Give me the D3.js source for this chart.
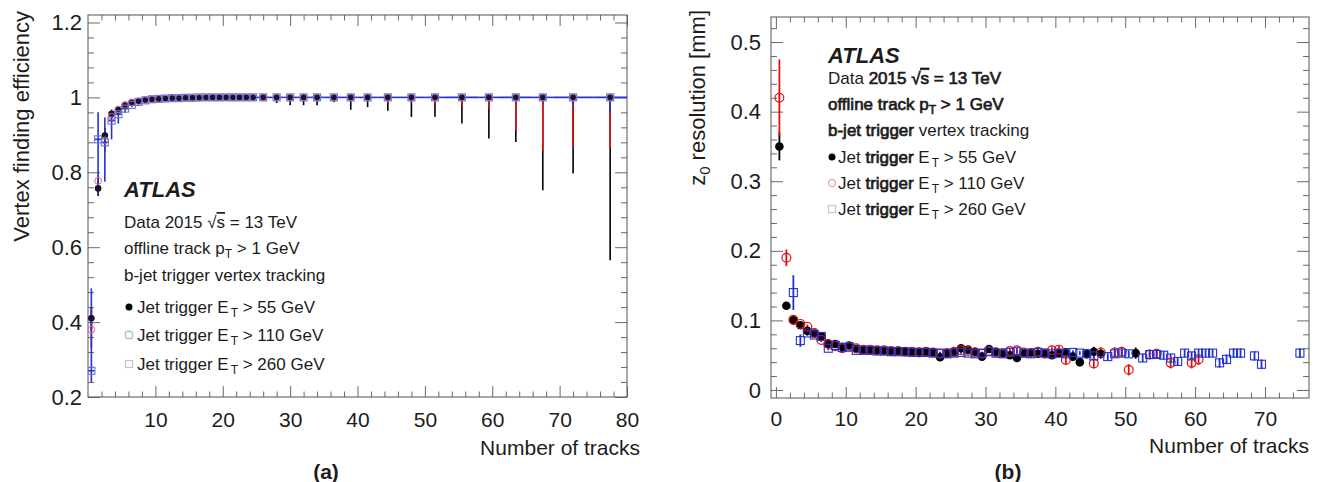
<!DOCTYPE html>
<html><head><meta charset="utf-8">
<script src="https://cdn.jsdelivr.net/npm/d3@7"></script>
<style>
body{margin:0;background:#fff}
svg{display:block}
text{font-family:"Liberation Sans",Arial,Helvetica,sans-serif;fill:#1c1c1c}
</style>
</head><body>
<svg id="c" width="1324" height="482"></svg>
<script>
// ================= Panel (a): vertex finding efficiency =================
const effX = [0.5,1.5,2.5,3.5,4.5,5.5,6.5,7.5,8.5,9.5,10.5,11.5,12.5,13.5,14.5,15.5,16.5,17.5,18.5,19.5,20.5,21.5,22.5,23.5,24.5,26,28,30,32,34,36.5,39,41.5,44.5,48,51.5,55.5,59.5,63.5,67.5,72,77.5];
const effXErr = [0.5,0.5,0.5,0.5,0.5,0.5,0.5,0.5,0.5,0.5,0.5,0.5,0.5,0.5,0.5,0.5,0.5,0.5,0.5,0.5,0.5,0.5,0.5,0.5,0.5,1,1,1,1,1,1.5,1,1.5,1.5,2,1.5,2.5,1.5,2.5,1.5,3,2.5];

const eff55 = [0.410,0.757,0.898,0.956,0.966,0.978,0.986,0.990,0.993,0.995,0.996,0.997,0.998,0.998,0.999,0.999,0.999,0.999,1,1,1,1,1,1,1,1,1,1,1,1,1,1,1,1,1,1,1,1,1,1,1,1];
const eff55Lo = [0.03,0.02,0.03,0.012,0.008,0.005,0.004,0.003,0.003,0.002,0.002,0.002,0.001,0.001,0.001,0.001,0.001,0.001,0.001,0.001,0.001,0.002,0.002,0.002,0.002,0.004,0.015,0.021,0.021,0.021,0.013,0.033,0.026,0.036,0.052,0.052,0.070,0.110,0.119,0.248,0.203,0.435];
const eff55Hi = [0.03,0.02,0.02,0.008,0.006,0.004,0.003,0.002,0.002,0.002,0.002,0.001,0.001,0.001,0.001,0.001,0.001,0.001,0,0,0,0,0,0,0,0,0,0,0,0,0,0,0,0,0,0,0,0,0,0,0,0];

const eff110 = [0.380,0.777,0.885,0.948,0.968,0.980,0.987,0.990,0.993,0.995,0.996,0.997,0.998,0.998,0.999,0.999,0.999,1,1,1,1,1,1,1,1,1,1,1,1,1,1,1,1,1,1,1,1,1,1,1,1,1];
const eff110Lo = [0.05,0.015,0.03,0.012,0.008,0.005,0.004,0.003,0.003,0.002,0.002,0.002,0.001,0.001,0.001,0.001,0.001,0.001,0.001,0.001,0.001,0.001,0.001,0.001,0.001,0.002,0.006,0.006,0.008,0.008,0.005,0.010,0.010,0.015,0.015,0.020,0.022,0.030,0.088,0.142,0.134,0.137];
const eff110Hi = [0.05,0.015,0.02,0.008,0.006,0.004,0.003,0.002,0.002,0.002,0.002,0.001,0.001,0.001,0.001,0.001,0.001,0,0,0,0,0,0,0,0,0,0,0,0,0,0,0,0,0,0,0,0,0,0,0,0,0];

const eff260 = [0.270,0.888,0.880,0.938,0.955,0.970,0.980,0.988,0.992,0.995,0.996,0.997,0.998,0.998,0.999,0.999,1,1,1,1,1,1,1,1,1,1,1,1,1,1,1,1,1,1,1,1,1,1,1,1,1,1];
const eff260Lo = [0.03,0.145,0.105,0.05,0.025,0.012,0.006,0.004,0.003,0.002,0.002,0.002,0.001,0.001,0.001,0.001,0.001,0.001,0.001,0.001,0.001,0.001,0.001,0.001,0.001,0.001,0.003,0.003,0.004,0.004,0.003,0.005,0.005,0.006,0.007,0.007,0.008,0.010,0.012,0.015,0.020,0.040];
const eff260Hi = [0.22,0.072,0.066,0.03,0.018,0.01,0.006,0.003,0.002,0.002,0.002,0.001,0.001,0.001,0.001,0.001,0,0,0,0,0,0,0,0,0,0,0,0,0,0,0,0,0,0,0,0,0,0,0,0,0,0];

const effXTicks = [10,20,30,40,50,60,70,80];
const effXLabels = ["10","20","30","40","50","60","70","80"];
const effYTicks = [0.2,0.4,0.6,0.8,1,1.2];
const effYLabels = ["0.2","0.4","0.6","0.8","1","1.2"];

// ================= Panel (b): z0 resolution =================
const resX55 = [0.5,1.5,2.5,3.5,4.5,5.5,6.5,7.5,8.5,9.5,10.5,11.5,12.5,13.5,14.5,15.5,16.5,17.5,18.5,19.5,20.5,21.5,22.5,23.5,24.5,25.5,26.5,27.5,28.5,29.5,30.5,31.5,32.5,33.5,34.5,35.5,36.5,37.5,38.5,39.5,40.5,41.5,42.5,43.5,44.5,45.5,46.5,51.5];
const res55 = [0.350,0.121,0.100,0.093,0.085,0.081,0.077,0.066,0.066,0.062,0.064,0.059,0.058,0.057,0.057,0.056,0.056,0.056,0.055,0.055,0.055,0.054,0.054,0.047,0.053,0.054,0.060,0.058,0.055,0.048,0.059,0.055,0.052,0.050,0.046,0.053,0.054,0.052,0.053,0.050,0.053,0.054,0.048,0.040,0.052,0.055,0.052,0.053];
const res55Err = [0.02,0.004,0.003,0.003,0.003,0.003,0.003,0.003,0.002,0.002,0.002,0.002,0.002,0.002,0.002,0.002,0.002,0.002,0.002,0.002,0.002,0.002,0.002,0.002,0.003,0.003,0.003,0.003,0.003,0.003,0.003,0.004,0.004,0.004,0.004,0.004,0.005,0.005,0.005,0.005,0.006,0.006,0.006,0.006,0.007,0.007,0.007,0.008];

const resX110 = [0.5,1.5,2.5,3.5,4.5,5.5,6.5,7.5,8.5,9.5,10.5,11.5,12.5,13.5,14.5,15.5,16.5,17.5,18.5,19.5,20.5,21.5,22.5,23.5,24.5,25.5,26.5,27.5,28.5,29.5,30.5,31.5,32.5,33.5,34.5,35.5,36.5,37.5,38.5,39.5,40.5,41.5,45.5,46.5,48.5,49.5,50.5,53.5,54.5,56.5,59.5,60.5];
const res110 = [0.420,0.190,0.101,0.095,0.091,0.082,0.072,0.066,0.063,0.060,0.062,0.060,0.058,0.058,0.057,0.057,0.056,0.056,0.055,0.055,0.054,0.055,0.054,0.052,0.053,0.055,0.057,0.056,0.054,0.052,0.056,0.054,0.053,0.056,0.057,0.054,0.053,0.055,0.052,0.057,0.058,0.043,0.038,0.054,0.054,0.055,0.029,0.051,0.052,0.039,0.039,0.044];
const res110Err = [0.055,0.012,0.004,0.003,0.003,0.003,0.003,0.003,0.002,0.002,0.002,0.002,0.002,0.002,0.002,0.002,0.002,0.002,0.002,0.002,0.003,0.003,0.003,0.003,0.003,0.003,0.003,0.003,0.003,0.003,0.003,0.004,0.004,0.004,0.004,0.004,0.005,0.005,0.005,0.005,0.006,0.006,0.007,0.007,0.007,0.007,0.008,0.007,0.007,0.008,0.008,0.008];

const resX260 = [2.5,3.5,4.5,5.5,6.5,7.5,8.5,9.5,10.5,11.5,12.5,13.5,14.5,15.5,16.5,17.5,18.5,19.5,20.5,21.5,22.5,23.5,24.5,25.5,26.5,27.5,28.5,29.5,30.5,31.5,32.5,33.5,34.5,35.5,36.5,37.5,38.5,39.5,40.5,41.5,42.5,43.5,44.5,45.5,47.5,48.5,49.5,50.5,52.5,53.5,54.5,55.5,56.5,57.5,58.5,59.5,60.5,61.5,62.5,63.5,64.5,65.5,66.5,68.5,69.5,75];
const res260 = [0.140,0.071,0.082,0.079,0.077,0.060,0.064,0.061,0.062,0.057,0.057,0.057,0.056,0.056,0.055,0.055,0.055,0.054,0.054,0.054,0.053,0.053,0.052,0.053,0.054,0.053,0.052,0.053,0.055,0.053,0.052,0.054,0.055,0.053,0.052,0.054,0.053,0.052,0.053,0.052,0.054,0.053,0.052,0.049,0.048,0.052,0.053,0.052,0.046,0.051,0.051,0.050,0.046,0.041,0.053,0.049,0.053,0.053,0.053,0.039,0.044,0.053,0.053,0.049,0.037,0.053];
const res260Err = [0.025,0.009,0.004,0.003,0.003,0.003,0.003,0.003,0.003,0.002,0.002,0.002,0.002,0.002,0.002,0.002,0.002,0.002,0.002,0.002,0.002,0.002,0.002,0.002,0.002,0.002,0.002,0.002,0.002,0.002,0.003,0.003,0.003,0.003,0.003,0.003,0.003,0.003,0.003,0.003,0.003,0.003,0.004,0.005,0.005,0.005,0.005,0.005,0.006,0.006,0.006,0.006,0.006,0.006,0.006,0.006,0.006,0.006,0.006,0.007,0.007,0.007,0.007,0.007,0.007,0.007];

const resXTicks = [0,10,20,30,40,50,60,70];
const resXLabels = ["0","10","20","30","40","50","60","70"];
const resYTicks = [0,0.1,0.2,0.3,0.4,0.5];
const resYLabels = ["0","0.1","0.2","0.3","0.4","0.5"];

// ================= drawing =================
const svg = d3.select("#c");
const C_BLACK = "#000000", C_RED = "#e01010", C_BLUE = "#2233d0";
const FONT = '"Liberation Sans",Arial,Helvetica,sans-serif';

function styleAxis(sel, fs){
  sel.attr("font-size", fs).attr("font-family", FONT);
  sel.select(".domain").remove();
  sel.selectAll(".tick line").attr("stroke", "#6a6a6a").attr("stroke-width", 1);
  sel.selectAll(".tick text").attr("fill", "#1c1c1c");
}

function frameAxes(cfg){
  const {x, y, xT, xL, yT, yL, xMinor, yMinor, xPad, yPad, xMaj, yMaj} = cfg;
  const [X0, X1] = x.range(), [Y0, Y1] = y.range();
  const g = svg.append("g");
  const fmt = (ticks, labels) => (d) => labels[ticks.indexOf(d)];
  g.append("g").attr("transform", `translate(0,${Y0})`)
    .call(d3.axisBottom(x).tickValues(xMinor).tickSize(-xMaj/2).tickFormat("")).call(styleAxis, 21);
  g.append("g").attr("transform", `translate(0,${Y1})`)
    .call(d3.axisTop(x).tickValues(xMinor).tickSize(-xMaj/2).tickFormat("")).call(styleAxis, 21);
  g.append("g").attr("transform", `translate(${X0},0)`)
    .call(d3.axisLeft(y).tickValues(yMinor).tickSize(-yMaj/2).tickFormat("")).call(styleAxis, 22);
  g.append("g").attr("transform", `translate(${X1},0)`)
    .call(d3.axisRight(y).tickValues(yMinor).tickSize(-yMaj/2).tickFormat("")).call(styleAxis, 22);
  g.append("g").attr("transform", `translate(0,${Y0})`)
    .call(d3.axisBottom(x).tickValues(xT).tickSize(-xMaj).tickPadding(xPad).tickFormat(fmt(xT, xL))).call(styleAxis, 21);
  g.append("g").attr("transform", `translate(0,${Y1})`)
    .call(d3.axisTop(x).tickValues(xT).tickSize(-xMaj).tickFormat("")).call(styleAxis, 21);
  g.append("g").attr("transform", `translate(${X0},0)`)
    .call(d3.axisLeft(y).tickValues(yT).tickSize(-yMaj).tickPadding(yPad).tickFormat(fmt(yT, yL))).call(styleAxis, 22);
  g.append("g").attr("transform", `translate(${X1},0)`)
    .call(d3.axisRight(y).tickValues(yT).tickSize(-yMaj).tickFormat("")).call(styleAxis, 22);
  g.append("rect").attr("x", X0).attr("y", Y1).attr("width", X1 - X0).attr("height", Y0 - Y1)
    .attr("fill", "none").attr("stroke", "#555").attr("stroke-width", 1);
}

function clipFor(id, x, y){
  const [X0, X1] = x.range(), [Y0, Y1] = y.range();
  svg.append("clipPath").attr("id", id).append("rect")
    .attr("x", X0).attr("y", Y1).attr("width", X1 - X0).attr("height", Y0 - Y1);
  return svg.append("g").attr("clip-path", `url(#${id})`);
}

function vErr(g, xs, ys, lo, hi, x, y, color, w){
  g.append("g").selectAll("line").data(xs).join("line")
    .attr("x1", d => x(d)).attr("x2", d => x(d))
    .attr("y1", (d, i) => y(ys[i] - lo[i])).attr("y2", (d, i) => y(ys[i] + hi[i]))
    .attr("stroke", color).attr("stroke-width", w);
}
function hErr(g, xs, ys, xe, x, y, color, w){
  g.append("g").selectAll("line").data(xs).join("line")
    .attr("x1", (d, i) => x(d - xe[i])).attr("x2", (d, i) => x(d + xe[i]))
    .attr("y1", (d, i) => y(ys[i])).attr("y2", (d, i) => y(ys[i]))
    .attr("stroke", color).attr("stroke-width", w);
}
function circles(g, xs, ys, x, y, r, fill, stroke, sw){
  g.append("g").selectAll("circle").data(xs).join("circle")
    .attr("cx", d => x(d)).attr("cy", (d, i) => y(ys[i])).attr("r", r)
    .attr("fill", fill).attr("stroke", stroke).attr("stroke-width", sw);
}
function squares(g, xs, ys, x, y, s, stroke, sw){
  g.append("g").selectAll("rect").data(xs).join("rect")
    .attr("x", d => x(d) - s/2).attr("y", (d, i) => y(ys[i]) - s/2)
    .attr("width", s).attr("height", s)
    .attr("fill", "none").attr("stroke", stroke).attr("stroke-width", sw);
}

// ---------- Panel (a) ----------
const xA = d3.scaleLinear().domain([0, 80]).range([88, 627]);
const yA = d3.scaleLinear().domain([0.2, 1.22]).range([397, 15]);
frameAxes({x: xA, y: yA, xT: effXTicks, xL: effXLabels, yT: effYTicks, yL: effYLabels,
  xMinor: d3.range(2, 80, 2).filter(v => v % 10), yMinor: d3.range(0.24, 1.22, 0.04).filter(v => Math.abs(v*5 - Math.round(v*5)) > 1e-6),
  xPad: 15, yPad: 6, xMaj: 11, yMaj: 12});
const gA = clipFor("clipA", xA, yA);
vErr(gA, effX, eff55, eff55Lo, eff55Hi, xA, yA, C_BLACK, 1.6);
vErr(gA, effX, eff110, eff110Lo, eff110Hi, xA, yA, C_RED, 1.6);
vErr(gA, effX, eff260, eff260Lo, eff260Hi, xA, yA, C_BLUE, 1.6);
hErr(gA, effX, eff260, effXErr, xA, yA, C_BLUE, 1.6);
circles(gA, effX, eff55, xA, yA, 3.3, "#1a1030", "none", 0);
circles(gA, effX, eff110, xA, yA, 3.4, "none", "#d86a88", 1);
squares(gA, effX, eff260, xA, yA, 7, "#6a74d8", 1.1);

// legend (a)
const tA = svg.append("g");
tA.append("text").attr("x", 124).attr("y", 197).attr("font-size", 22)
  .attr("font-weight", "bold").attr("font-style", "italic").text("ATLAS");
const la1 = tA.append("text").attr("x", 124).attr("y", 228).attr("font-size", 17);
la1.append("tspan").text("Data 2015  √");
la1.append("tspan").attr("text-decoration", "overline").text("s");
la1.append("tspan").text(" = 13 TeV");
const la2 = tA.append("text").attr("x", 124).attr("y", 254).attr("font-size", 17);
la2.append("tspan").text("offline track p");
la2.append("tspan").attr("font-size", 12).attr("dy", 4).text("T");
la2.append("tspan").attr("dy", -4).text(" > 1 GeV");
tA.append("text").attr("x", 124).attr("y", 281).attr("font-size", 17).text("b-jet trigger vertex tracking");
const legA = [["55", 313], ["110", 341], ["260", 370]];
legA.forEach(([e, yy]) => {
  const t = tA.append("text").attr("x", 137).attr("y", yy).attr("font-size", 17);
  t.append("tspan").text("Jet trigger E");
  t.append("tspan").attr("font-size", 12).attr("dx", 2).attr("dy", 4).text("T");
  t.append("tspan").attr("dy", -4).text(" > " + e + " GeV");
});
tA.append("circle").attr("cx", 129).attr("cy", 307).attr("r", 3.5).attr("fill", "#000");
tA.append("rect").attr("x", 125.5).attr("y", 331.5).attr("width", 7).attr("height", 7).attr("rx", 1.5)
  .attr("fill", "none").attr("stroke", "#bbb").attr("stroke-width", 1.3);
tA.append("rect").attr("x", 125.5).attr("y", 360.5).attr("width", 7).attr("height", 7)
  .attr("fill", "none").attr("stroke", "#c4c4c4").attr("stroke-width", 1.2);

// axis titles (a)
svg.append("text").attr("transform", "translate(29,11) rotate(-90)").attr("text-anchor", "end")
  .attr("font-size", 22).attr("fill", "#2a2a2a").text("Vertex finding efficiency");
svg.append("text").attr("x", 640).attr("y", 455).attr("text-anchor", "end")
  .attr("font-size", 21).text("Number of tracks");
svg.append("text").attr("x", 326).attr("y", 479).attr("text-anchor", "middle")
  .attr("font-size", 21).attr("font-weight", "bold").text("(a)");

// ---------- Panel (b) ----------
const xB = d3.scaleLinear().domain([-0.7, 76.3]).range([771, 1309]);
const yB = d3.scaleLinear().domain([-0.0115, 0.536]).range([398, 17]);
frameAxes({x: xB, y: yB, xT: resXTicks, xL: resXLabels, yT: resYTicks, yL: resYLabels,
  xMinor: d3.range(2, 76, 2).filter(v => v % 10), yMinor: d3.range(0.02, 0.53, 0.02).filter(v => Math.abs(v*10 - Math.round(v*10)) > 1e-6),
  xPad: 13, yPad: 10, xMaj: 11, yMaj: 12});
const gB = clipFor("clipB", xB, yB);
vErr(gB, resX55, res55, res55Err, res55Err, xB, yB, C_BLACK, 1.8);
vErr(gB, resX110, res110, res110Err, res110Err, xB, yB, C_RED, 1.8);
vErr(gB, resX260, res260, res260Err, res260Err, xB, yB, C_BLUE, 1.8);
circles(gB, resX55, res55, xB, yB, 4.3, C_BLACK, "none", 0);
circles(gB, resX110, res110, xB, yB, 4.4, "none", C_RED, 1.2);
squares(gB, resX260, res260, xB, yB, 8, C_BLUE, 1.1);

// legend (b)
const tB = svg.append("g");
const BOLD = "stroke:#1c1c1c;stroke-width:0.7px";
tB.append("text").attr("x", 828).attr("y", 63).attr("font-size", 22)
  .attr("font-weight", "bold").attr("font-style", "italic").text("ATLAS");
const lb1 = tB.append("text").attr("x", 828).attr("y", 84).attr("font-size", 17);
lb1.append("tspan").text("Data ");
lb1.append("tspan").attr("style", BOLD).text("2015  √");
lb1.append("tspan").attr("style", BOLD).attr("text-decoration", "overline").text("s");
lb1.append("tspan").attr("style", BOLD).text(" = 13 TeV");
const lb2 = tB.append("text").attr("x", 828).attr("y", 110).attr("font-size", 17).attr("style", BOLD);
lb2.append("tspan").text("offline track p");
lb2.append("tspan").attr("font-size", 12).attr("dy", 4).text("T");
lb2.append("tspan").attr("dy", -4).text(" > 1 GeV");
const lb3 = tB.append("text").attr("x", 828).attr("y", 136).attr("font-size", 17);
lb3.append("tspan").attr("style", BOLD).text("b-jet trigger");
lb3.append("tspan").text(" vertex tracking");
const legB = [["55", 163], ["110", 189], ["260", 215]];
legB.forEach(([e, yy]) => {
  const t = tB.append("text").attr("x", 838).attr("y", yy).attr("font-size", 17);
  t.append("tspan").text("Jet ");
  t.append("tspan").attr("style", BOLD).text("trigger");
  t.append("tspan").text(" E");
  t.append("tspan").attr("font-size", 12).attr("dx", 2).attr("dy", 4).text("T");
  t.append("tspan").attr("dy", -4).text(" > " + e + " GeV");
});
tB.append("circle").attr("cx", 832).attr("cy", 157).attr("r", 3.5).attr("fill", "#000");
tB.append("circle").attr("cx", 832).attr("cy", 183).attr("r", 3.5)
  .attr("fill", "none").attr("stroke", "#e8a8b8").attr("stroke-width", 1.3);
tB.append("rect").attr("x", 828.5).attr("y", 205.5).attr("width", 7).attr("height", 7)
  .attr("fill", "none").attr("stroke", "#c8c8c8").attr("stroke-width", 1.2);

// axis titles (b)
const yt = svg.append("text").attr("transform", "translate(705,10) rotate(-90)").attr("text-anchor", "end")
  .attr("font-size", 22).attr("fill", "#2a2a2a");
yt.append("tspan").text("z");
yt.append("tspan").attr("font-size", 15).attr("dy", 5).text("0");
yt.append("tspan").attr("dy", -5).text(" resolution [mm]");
svg.append("text").attr("x", 1309).attr("y", 453).attr("text-anchor", "end")
  .attr("font-size", 21).text("Number of tracks");
svg.append("text").attr("x", 1008).attr("y", 479).attr("text-anchor", "middle")
  .attr("font-size", 21).attr("font-weight", "bold").text("(b)");
</script>
</body></html>
